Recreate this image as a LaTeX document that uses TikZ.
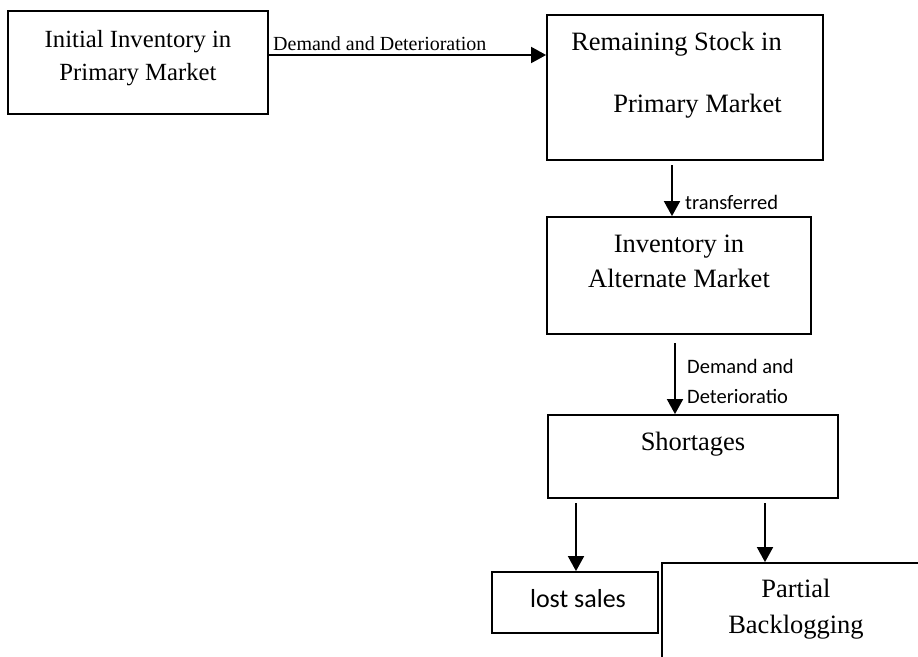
\documentclass[tikz,border=0pt]{standalone}
\usepackage{fontspec}
\setmainfont{Liberation Serif}
\newfontfamily\calibri{Carlito}
\usetikzlibrary{arrows.meta}

\tikzset{
	box/.style={draw, line width=1.8pt, rectangle, inner sep=0pt},
	arr/.style={line width=1.8pt, -{Triangle[length=15pt,width=16pt]}},
	boxtext/.style={font=\fontsize{26.5}{35}\selectfont, inner sep=0pt, anchor=base},
	lbl/.style={font=\calibri\fontsize{20.5}{30}\selectfont, inner sep=0pt, anchor=base west}
}

\begin{document}
\begin{tikzpicture}[x=1pt, y=-1pt]
	\clip(0, 0) rectangle (918, 656);

	% boxes
	\node[box, minimum width=260, minimum height=103] (init) at(138, 62.5){};
	\node[box, minimum width=276, minimum height=145] (remain) at(685, 87.5){};
	\node[box, minimum width=264, minimum height=117] (alt) at(679, 275.5){};
	\node[box, minimum width=290, minimum height=83] (short) at(693, 456.5){};
	\node[box, minimum width=166, minimum height=61] (lost) at(575, 602.5){};
	\node[box, minimum width=268, minimum height=140] (partial) at(796, 633){};

	% texts in the boxes (base = last line)
	\node[boxtext, font=\fontsize{24.7}{33}\selectfont, align=center] (initT) at(138, 80){Initial Inventory in\\Primary Market};
	\node[boxtext, anchor=base east, align=right, font=\fontsize{26.5}{62}\selectfont] (remainT) at(782, 112){Remaining Stock in\\Primary Market};
	\node[boxtext, align=center] (altT) at(679, 287){Inventory in\\Alternate Market};
	\node[boxtext] (shortT) at(693, 450){Shortages};
	\node[boxtext, font=\calibri\fontsize{26}{30}\selectfont] (lostT) at(578, 607){lost sales};
	\node[boxtext, align=center, font=\fontsize{26.5}{36}\selectfont] (partialT) at(796, 633){Partial\\Backlogging};

	% arrows
	\coordinate (a1) at(268, 55);
	\draw[arr] (a1) -- (a1 -| remain.west);
		\node[inner sep=0pt, anchor=base west, font=\fontsize{20}{24}\selectfont] (a1T) at(273, 50){Demand and Deterioration};
	\coordinate (a2) at(672, 165);
	\draw[arr] (a2) -- (a2 |- alt.north);
		\node[lbl] (a2T) at(685, 209){transferred};
	\coordinate (a3) at(675, 343);
	\draw[arr] (a3) -- (a3 |- short.north);
		\node[lbl] (a3T) at(687, 373){Demand and};
		\node[lbl] (a3U) at(687, 403){Deterioratio};
	\coordinate (a4) at(576, 503);
	\draw[arr] (a4) -- (a4 |- lost.north);
	\coordinate (a5) at(765, 503);
	\draw[arr] (a5) -- (a5 |- partial.north);
\end{tikzpicture}
\end{document}
